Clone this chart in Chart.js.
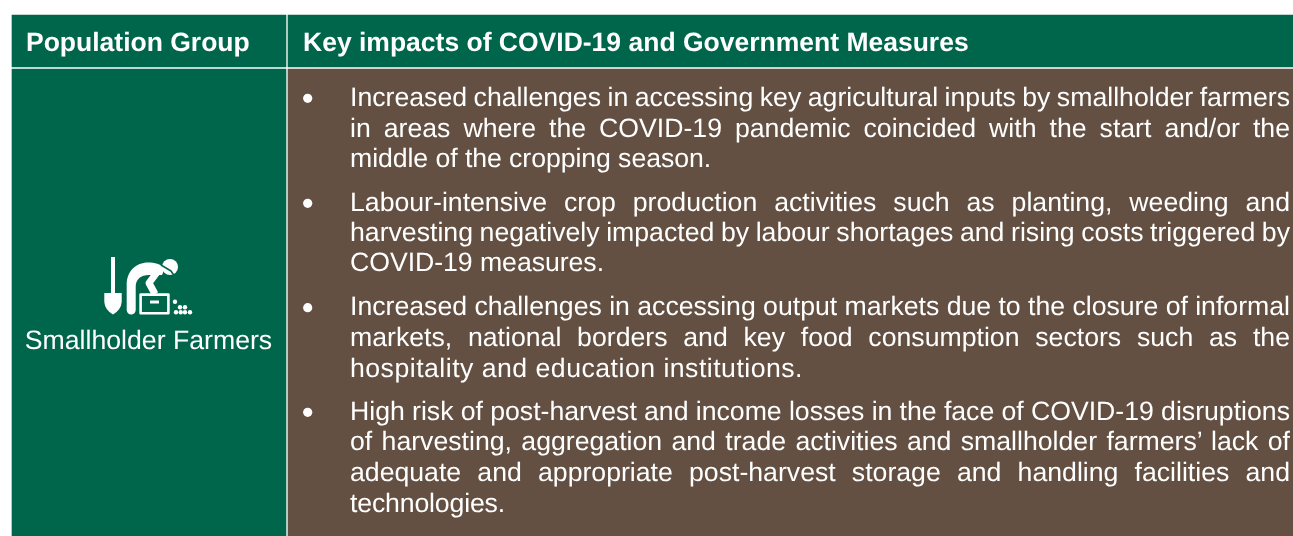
<!DOCTYPE html>
<html>
<head>
<meta charset="utf-8">
<title>Key impacts of COVID-19</title>
<script src="https://cdn.jsdelivr.net/npm/chart.js@4"></script>
<style>
html, body { margin: 0; background: #fff; overflow: hidden; }
canvas { display: block; }
</style>
</head>
<body>
<canvas id="myChart" width="1293" height="536"></canvas>
<script>
const headers = ['Population Group', 'Key impacts of COVID-19 and Government Measures'];
const groupLabel = 'Smallholder Farmers';
const bullet1 = [
    'Increased challenges in accessing key agricultural inputs by smallholder farmers',
    'in areas where the COVID-19 pandemic coincided with the start and/or the',
    'middle of the cropping season.'
];
const bullet2 = [
    'Labour-intensive crop production activities such as planting, weeding and',
    'harvesting negatively impacted by labour shortages and rising costs triggered by',
    'COVID-19 measures.'
];
const bullet3 = [
    'Increased challenges in accessing output markets due to the closure of informal',
    'markets, national borders and key food consumption sectors such as the',
    'hospitality and education institutions.'
];
const bullet4 = [
    'High risk of post-harvest and income losses in the face of COVID-19 disruptions',
    'of harvesting, aggregation and trade activities and smallholder farmers\u2019 lack of',
    'adequate and appropriate post-harvest storage and handling facilities and',
    'technologies.'
];
const bullets = [bullet1, bullet2, bullet3, bullet4];
const lineBaselines = [
    [106, 136.6, 167],
    [210.8, 241, 271.4],
    [315, 346, 376.6],
    [420, 450.4, 481, 511.6]
];
// right end of the unjustified last line of each bullet
const lastLineEnds = [711, 604, 803, 505];

const GREEN = '#00664b';
const BROWN = '#635042';
const font = 'Liberation Sans, Arial, sans-serif';

// draws the text and the farmer pictogram on top of the cells
const tablePlugin = {
    id: 'tableText',
    afterDraw(chart) {
        const c = chart.ctx;
        const px = v => chart.scales.x.getPixelForValue(v);
        const py = v => chart.scales.y.getPixelForValue(v);
        c.save();
        c.fillStyle = '#fff';
        c.textBaseline = 'alphabetic';
        c.textAlign = 'left';
        c.textRendering = 'geometricPrecision';

        c.font = 'bold 26.5px ' + font;
        c.fillText(headers[0], px(26), py(50.5));
        c.fillText(headers[1], px(303), py(50.5));

        c.font = '26.67px ' + font;
        c.textAlign = 'center';
        c.fillText(groupLabel, px(148.5), py(349));
        c.textAlign = 'left';

        bullets.forEach((lines, b) => {
            lines.forEach((line, i) => {
                c.wordSpacing = '0px';
                c.letterSpacing = '0px';
                const w = c.measureText(line).width;
                if (i < lines.length - 1) {
                    c.wordSpacing = (1290 - 350 - w) / (line.split(' ').length - 1) + 'px';
                } else {
                    c.letterSpacing = (lastLineEnds[b] - 350 - w) / line.length + 'px';
                }
                c.fillText(line, px(350), py(lineBaselines[b][i]));
            });
        });
        c.wordSpacing = '0px';
        c.letterSpacing = '0px';

        drawFarmer(c);
        c.restore();
    }
};

function drawFarmer(c) {
    c.fillStyle = '#fff';
    c.strokeStyle = '#fff';
    // shovel
    c.fillRect(111, 257, 4, 38);
    c.beginPath();
    c.moveTo(104.3, 293);
    c.lineTo(121.7, 293);
    c.lineTo(121.7, 302);
    c.quadraticCurveTo(121, 310, 113, 314.5);
    c.quadraticCurveTo(105, 310, 104.3, 302);
    c.closePath();
    c.fill();
    // body
    c.beginPath();
    c.moveTo(126.7, 310);
    c.lineTo(126.7, 285);
    c.bezierCurveTo(126.7, 271, 136, 262.5, 148, 262.5);
    c.bezierCurveTo(155, 262.5, 160, 264, 165, 268);
    c.lineTo(162, 275);
    c.lineTo(149, 275);
    c.bezierCurveTo(141, 275, 135.7, 279, 135.7, 287);
    c.lineTo(135.7, 310);
    c.arc(131.2, 310, 4.5, 0, Math.PI);
    c.closePath();
    c.fill();
    // arm
    c.lineWidth = 7;
    c.lineJoin = 'round';
    c.beginPath();
    c.moveTo(158, 271);
    c.lineTo(149, 283);
    c.lineTo(155, 294);
    c.stroke();
    // head with cap
    c.beginPath();
    c.arc(170, 267, 8, 0, Math.PI * 2);
    c.fill();
    c.strokeStyle = GREEN;
    c.lineWidth = 1.6;
    c.beginPath();
    c.moveTo(161, 265);
    c.lineTo(171, 271);
    c.lineTo(175, 277);
    c.stroke();
    // crate
    c.strokeStyle = '#fff';
    c.lineWidth = 2.6;
    c.strokeRect(140.6, 294.6, 27.8, 18.6);
    c.fillStyle = GREEN;
    c.fillRect(142, 296, 25, 16);
    c.fillStyle = '#fff';
    c.fillRect(150, 300.5, 9, 3);
    // grains
    [[175, 301.7], [180, 307.3], [185, 307.3], [176, 312.3], [180.7, 312.3], [185, 312.3], [190, 312.3]].forEach(d => {
        c.beginPath();
        c.arc(d[0], d[1], 2.2, 0, Math.PI * 2);
        c.fill();
    });
}

const ctx = document.getElementById('myChart').getContext('2d');
const myChart = new Chart(ctx, {
    data: {
        datasets: [{
            type: 'bar',
            label: 'Header cells',
            data: [{ x: [12, 286], y: 41 }, { x: [288, 1293], y: 41 }],
            backgroundColor: GREEN,
            barThickness: 52,
            grouped: false
        }, {
            type: 'bar',
            label: 'Body cells',
            data: [{ x: [12, 286], y: 302.5 }, { x: [288, 1293], y: 302.5 }],
            backgroundColor: [GREEN, BROWN],
            barThickness: 467,
            grouped: false
        }, {
            type: 'scatter',
            label: 'Bullets',
            data: [{ x: 307.7, y: 98.3 }, { x: 307.7, y: 203.3 }, { x: 307.7, y: 307.7 }, { x: 307.7, y: 412.3 }],
            backgroundColor: '#fff',
            borderWidth: 0,
            pointRadius: 4.6,
            order: -1
        }]
    },
    options: {
        indexAxis: 'y',
        responsive: false,
        animation: false,
        layout: { padding: 0, autoPadding: false },
        plugins: { legend: { display: false }, tooltip: { enabled: false } },
        scales: {
            x: { type: 'linear', min: 0, max: 1293, display: false },
            y: { type: 'linear', min: 0, max: 536, reverse: true, offset: false, display: false }
        }
    },
    plugins: [tablePlugin]
});
</script>
</body>
</html>
